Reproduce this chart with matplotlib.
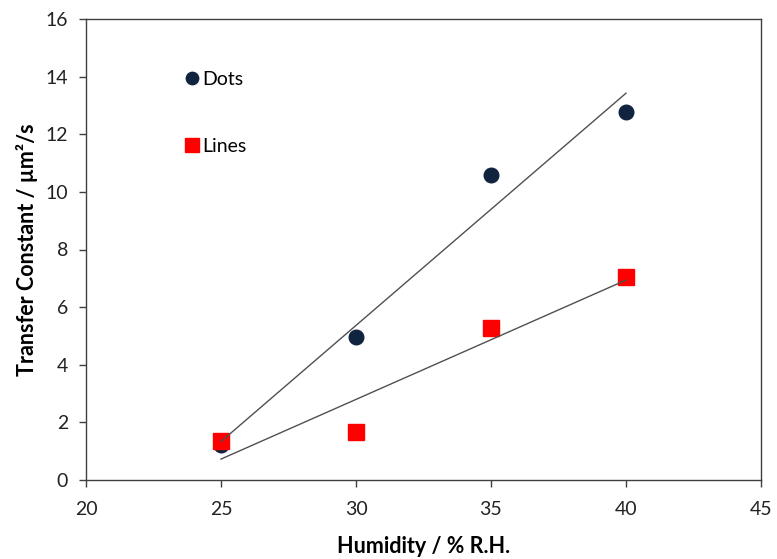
import numpy as np
import matplotlib
matplotlib.use("Agg")
import matplotlib.pyplot as plt

humidity = [25, 30, 35, 40]
dots = [1.22, 4.95, 10.57, 12.78]
lines = [1.35, 1.66, 5.27, 7.05]
xticks = [20, 25, 30, 35, 40, 45]
yticks = [0, 2, 4, 6, 8, 10, 12, 14, 16]

plt.rcParams['font.family'] = ['Lato', 'DejaVu Sans']

fig = plt.figure(figsize=(7.77, 5.59), dpi=100)
ax = fig.add_axes([86/777, 1-480/559, (761-86)/777, (480-19)/559])

hx = np.array(humidity, dtype=float)
for ys in (dots, lines):
    p = np.polyfit(hx, ys, 1)
    xs = np.array([hx.min(), hx.max()])
    ax.plot(xs, np.polyval(p, xs), color='#505050', lw=1.0, zorder=3)

ax.plot(humidity, dots, 'o', color='#10233F', markersize=10.5, label='Dots', zorder=2)
ax.plot(humidity, lines, 's', color='#FF0000', markersize=11.5, label='Lines', zorder=2)

ax.set_xlim(20, 45)
ax.set_ylim(0, 16)
ax.set_xticks(xticks)
ax.set_yticks(yticks)
ax.tick_params(direction='out', length=5, width=1, colors='#404040', labelcolor='#222222', labelsize=14)
ax.tick_params(axis='x', pad=10)
ax.tick_params(axis='y', pad=8)
for s in ax.spines.values():
    s.set_color('#404040')
    s.set_linewidth(1.0)

ax.set_xlabel('Humidity / % R.H.', fontsize=15.5, fontweight='bold', labelpad=13)
ax.set_ylabel('Transfer Constant / µm²/s', fontsize=15.5, fontweight='bold', labelpad=5)

leg = ax.legend(loc='upper left', bbox_to_anchor=(0.115, 0.926), frameon=False, fontsize=14,
                labelspacing=2.6, handletextpad=0.0, handlelength=1.1, markerscale=0.85)

fig.savefig('out.png', dpi=100)
